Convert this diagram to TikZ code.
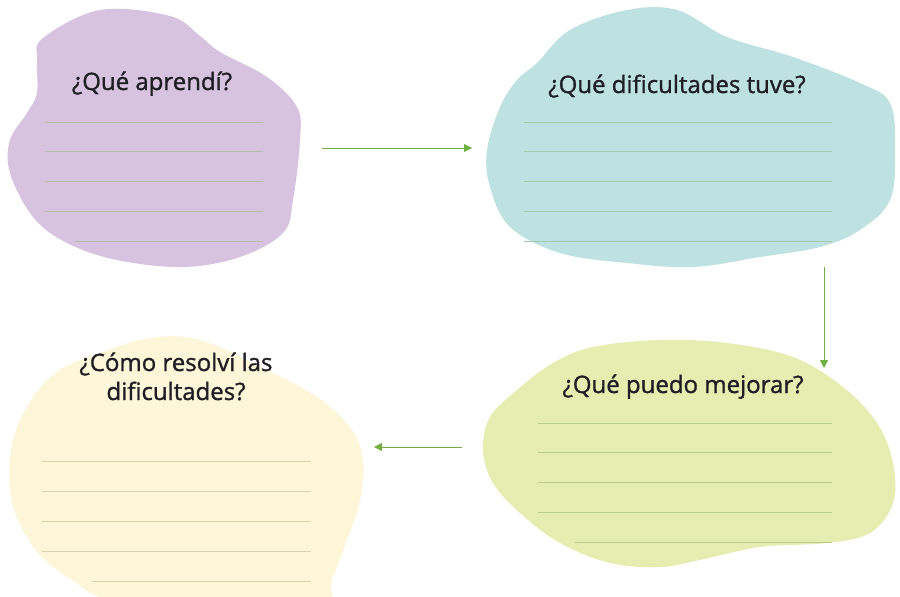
\documentclass[tikz,border=0pt]{standalone}
\usepackage{fontspec}
\setmainfont{Open Sans}
\newfontfamily\handfont{Open Sans}[FakeBold=1.2]
\usetikzlibrary{arrows.meta}
\definecolor{cpurple}{RGB}{215,195,223}
\definecolor{cteal}{RGB}{190,225,226}
\definecolor{cgreen}{RGB}{229,237,176}
\definecolor{cyellow}{RGB}{253,246,216}
\definecolor{clinep}{RGB}{182,190,170}
\definecolor{clinet}{RGB}{160,204,170}
\definecolor{clineg}{RGB}{184,204,140}
\definecolor{cliney}{RGB}{218,210,168}
\definecolor{carrow}{RGB}{112,176,64}
\definecolor{ctext}{RGB}{30,30,36}
\tikzset{
  rule/.style={draw=#1, line width=0.9pt},
  flow/.style={draw=carrow, line width=0.8pt, -{Triangle[length=8pt,width=8pt]}},
  title/.style={text=ctext, font=\handfont\fontsize{24}{29}\selectfont, align=center, inner sep=0pt}
}
\begin{document}
\begin{tikzpicture}[x=1pt,y=-1pt]
\useasboundingbox (0,0) rectangle (900,597);
\fill[white] (0,0) rectangle (900,597);
% purple blob
\fill[cpurple] plot[smooth cycle, tension=0.6] coordinates {
 (43,38) (100,10) (170,16) (200,36) (220,52) (267,77) (297,107) (300,140) (293,200)
 (283,233) (240,257) (183,267) (117,260) (67,243) (33,217) (10,173) (10,140)
 (27,113) (37,93) (37,60)};
% teal blob
\fill[cteal] plot[smooth cycle, tension=0.6] coordinates {
 (537,63) (570,30) (627,10) (677,10) (727,37) (793,57) (860,83) (890,103)
 (895,150) (890,200) (860,230) (820,247) (760,257) (693,267) (627,263)
 (560,253) (510,227) (490,187) (487,150) (500,107) (517,80)};
% green blob
\fill[cgreen] plot[smooth cycle, tension=0.6] coordinates {
 (593,347) (660,340) (727,343) (793,357) (843,387) (877,423) (893,463)
 (893,503) (870,533) (827,543) (760,547) (700,560) (660,567) (610,563)
 (560,543) (520,513) (493,483) (483,450) (490,417) (517,390) (553,363)};
% yellow blob
\begin{scope}
\clip (0,0) rectangle (900,597);
\fill[cyellow] plot[smooth cycle, tension=0.6] coordinates {
 (100,353) (150,338) (200,340) (267,370) (317,397) (350,427) (363,460)
 (360,500) (347,540) (332,580) (322,610) (220,620) (110,600) (75,582)
 (40,555) (18,520) (10,487) (13,440) (33,397) (60,370)};
\end{scope}
% rules purple
\foreach \y in {122,151,181,211} \draw[rule=clinep] (45,\y) -- (263,\y);
\draw[rule=clinep] (75,241) -- (263,241);
% rules teal
\foreach \y in {122,151,181,211,241} \draw[rule=clinet] (524,\y) -- (832,\y);
% rules green
\foreach \y in {423,452,482,512} \draw[rule=clineg] (538,\y) -- (832,\y);
\draw[rule=clineg] (575,542) -- (832,542);
% rules yellow
\foreach \y in {461,491,521,551} \draw[rule=cliney] (42,\y) -- (311,\y);
\draw[rule=cliney] (92,581) -- (311,581);
% titles
\node[title, anchor=base] (t1) at (152,90) {¿Qué aprendí?};
\node[title, anchor=base] (t2) at (677,93) {¿Qué dificultades tuve?};
\node[title, anchor=base] (t3) at (683,393) {¿Qué puedo mejorar?};
\node[title, anchor=base] (t4) at (176,400) {¿Cómo resolví las\\dificultades?};
% connectors
\coordinate (a1s) at (322,148);
\coordinate (a1e) at (472,148);
\coordinate (a2s) at (824,267);
\coordinate (a2e) at (824,368);
\coordinate (a3s) at (462,447);
\coordinate (a3e) at (374,447);
\draw[flow] (a1s) -- (a1e);
\draw[flow] (a2s) -- (a2e);
\draw[flow] (a3s) -- (a3e);
\end{tikzpicture}
\end{document}
